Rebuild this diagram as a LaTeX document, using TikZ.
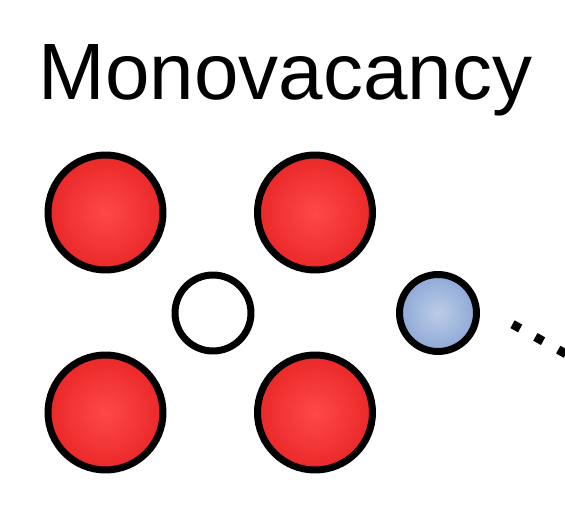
\documentclass[tikz,border=0pt]{standalone}
\usepackage{fontspec}
\setmainfont{Liberation Sans}
\usetikzlibrary{positioning}
\definecolor{colRedIn}{HTML}{FF4848}
\definecolor{colRedOut}{HTML}{EA2828}
\definecolor{colBlueIn}{HTML}{BCCCE8}
\definecolor{colBlueOut}{HTML}{8EA8D6}
\tikzset{
    hostatom/.style={
        circle, draw=black, line width=3.98pt,
        inner color=colRedIn, outer color=colRedOut,
        minimum size=2.3cm, inner sep=0pt
    },
    vacsite/.style={
        circle, draw=black, line width=3.98pt, fill=white,
        minimum size=1.52cm, inner sep=0pt
    },
    dopatom/.style={
        circle, draw=black, line width=3.98pt,
        inner color=colBlueIn, outer color=colBlueOut,
        minimum size=1.54cm, inner sep=0pt
    },
    bondline/.style={line width=5pt, dash pattern=on 5pt off 9.9pt},
}
\begin{document}
\begin{tikzpicture}[x=0.02cm, y=-0.02cm]
    \useasboundingbox (0,0) rectangle (565,517);
    \clip (0,0) rectangle (565,517);
    \node[anchor=base west, inner sep=0pt, font=\fontsize{45.5}{50}\selectfont] (title)
          at (38.5,100) {Monovacancy};
    % four host atoms around the vacancy
    \node[hostatom] (a1) at (105.5,212.5) {};
    \node[hostatom] (a2) at (315,212.5) {};
    \node[hostatom] (a3) at (105.5,412.5) {};
    \node[hostatom] (a4) at (315,412.5) {};
    \node[vacsite] (vac) at (213,313) {};
    \node[dopatom] (dop) at (438,313) {};
    \coordinate (bondstart) at (512.5,324.2);
    \coordinate (far) at (620,384);
    \draw[bondline] (bondstart) -- (far);
\end{tikzpicture}
\end{document}
